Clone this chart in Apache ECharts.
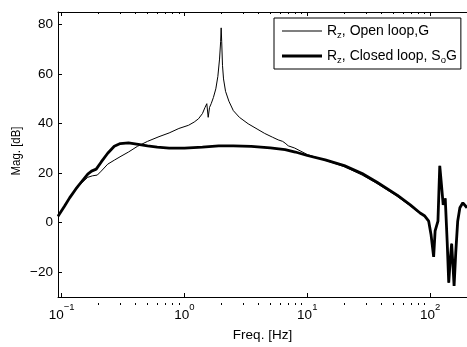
<!DOCTYPE html>
<html><head><meta charset="utf-8">
<script src="https://cdn.jsdelivr.net/npm/echarts@6/dist/echarts.min.js"></script>
<style>html,body{margin:0;padding:0;background:#fff}#c{width:467px;height:347px}</style>
</head><body><div id="c"></div>
<script>
const FONT = 'Liberation Sans, Arial, Helvetica, sans-serif';
const xMin = 0.0933, xMax = 200;
const yMin = -30, yMax = 85;
const xMajorTicks = [0.1, 1, 10, 100];
const xMinorTicks = [0.2,0.3,0.4,0.5,0.6,0.7,0.8,0.9,2,3,4,5,6,7,8,9,20,30,40,50,60,70,80,90];
const xTickExponents = ['\u22121', '0', '1', '2'];
const yTicks = [-20, 0, 20, 40, 60, 80];
const seriesNames = ['Rz, Open loop,G', 'Rz, Closed loop, SoG'];

const freqOpen = [0.0933,0.105,0.116,0.13,0.145,0.163,0.178,0.195,0.21,0.237,0.27,0.304,0.35,0.414,0.5,0.62,0.75,0.9,1.08,1.2,1.3,1.4,1.47,1.52,1.56,1.6,1.65,1.72,1.8,1.87,1.93,1.97,1.99,2.01,2.04,2.08,2.16,2.3,2.5,2.8,3.3,3.9,4.5,5.2,5.8,6.3,6.6,7.0,7.9,10,14,20,28,37,54,69,83,90,97.5,102,107,110,116,118,120,124,128,133,138,142,146,150,154,157,162,168,175,185,200];
const magOpen = [2.6,6.5,10,13.3,16,18.3,18.9,19.2,20.8,23.6,25.3,26.8,28.5,30.8,32.8,34.7,36.2,38,39.3,40.6,41.9,44,46.5,48,42.5,46.5,48,50.5,54,59,66,73,78.6,73,63.5,58,53,49,45.2,42.5,39.9,37.8,36,34.5,33.4,32.8,32.1,31,30.1,27.5,25.2,22.6,19.2,15.8,10.6,6.8,3.6,2.8,0.6,-5,-13.8,-3.3,0.6,12,22.9,15,7.2,9.8,-8,-24.2,-15,-8.5,-18,-25.5,-12,0.6,6,8,6];

const freqClosed = [0.0933,0.105,0.116,0.13,0.145,0.163,0.175,0.191,0.21,0.237,0.268,0.3,0.35,0.42,0.5,0.6,0.75,1.0,1.4,1.9,2.5,3.5,5,6.6,8,10,14,20,28,37,54,69,83,90,97.5,102,107,110,116,118,120,124,128,133,138,142,146,150,154,157,162,168,175,185,200];
const magClosed = [2.6,6.5,10,13.5,16.5,19.6,20.8,21.6,24.5,28,30.8,31.9,32.2,31.6,31,30.5,30.1,30.1,30.5,31,31,30.8,30.2,29.5,28.5,27.1,25.3,23,19.8,16.3,11.1,7.2,3.9,2.8,0.6,-5,-13.8,-3.3,0.6,12,22.9,15,7.2,9.8,-8,-24.2,-15,-8.5,-18,-25.5,-12,0.6,6,8,6];

const pairs = (xs, ys) => xs.map((x, i) => [x, ys[i]]);
const gridRect = {left: 58, top: 12, width: 412, height: 293};

const xLabelRich = {
  b: {fontSize: 13.5, fontFamily: FONT, color: '#000', lineHeight: 14, verticalAlign: 'top', padding: [6, 0, 0, 0]},
  s: {fontSize: 9.5, fontFamily: FONT, color: '#000', lineHeight: 10, verticalAlign: 'top'}
};
function xLabelFmt(v) {
  const e = Math.round(Math.log10(v));
  const idx = xMajorTicks.findIndex(t => Math.abs(Math.log10(t) - e) < 1e-6);
  if (idx < 0) return '';
  return '{b|10}{s|' + xTickExponents[idx] + '}';
}
function baseX(gridIndex, position, ticks, len, showLine, showLabel) {
  return {
    type: 'log', logBase: 10, gridIndex, position, min: xMin, max: xMax,
    axisLine: {show: showLine, onZero: false, lineStyle: {color: '#000', width: 1}},
    axisTick: {show: true, inside: true, length: len, customValues: ticks, lineStyle: {color: '#000', width: 1}},
    axisLabel: showLabel ? {show: true, customValues: ticks, formatter: xLabelFmt, rich: xLabelRich, margin: 5, color: '#000'} : {show: false},
    splitLine: {show: false}, minorTick: {show: false}, minorSplitLine: {show: false}
  };
}
const xAxes = [
  Object.assign(baseX(0, 'bottom', xMajorTicks, 4, true, true), {
    name: 'Freq. [Hz]', nameLocation: 'middle', nameGap: 31,
    nameTextStyle: {fontSize: 13.5, fontFamily: FONT, color: '#000'}
  }),
  baseX(0, 'top', xMajorTicks, 4, true, false),
  baseX(1, 'bottom', xMinorTicks, 2, false, false),
  baseX(1, 'top', xMinorTicks, 2, false, false)
];

const legendRich = {
  a: {fontSize: 14, fontFamily: FONT, color: '#000', lineHeight: 14, verticalAlign: 'top'},
  s: {fontSize: 9.5, fontFamily: FONT, color: '#000', lineHeight: 10, verticalAlign: 'top', padding: [6, 0, 0, 0]}
};
const legendText = {
  'Rz, Open loop,G': '{a|R}{s|z}{a|, Open loop,G}',
  'Rz, Closed loop, SoG': '{a|R}{s|z}{a|, Closed loop, S}{s|o}{a|G}'
};
const legendIcons = {
  'Rz, Open loop,G': 'path://M0,0L40,0L40,1L0,1Z',
  'Rz, Closed loop, SoG': 'path://M0,0L40,0L40,3L0,3Z'
};

const chart = echarts.init(document.getElementById('c'), null, {renderer: 'canvas'});
chart.setOption({
  animation: false,
  backgroundColor: '#fff',
  grid: [Object.assign({}, gridRect), Object.assign({}, gridRect)],
  xAxis: xAxes,
  yAxis: [
    {type: 'value', gridIndex: 0, position: 'left', min: yMin, max: yMax,
     axisLine: {show: true, onZero: false, lineStyle: {color: '#000', width: 1}},
     axisTick: {show: true, inside: true, length: 4, customValues: yTicks, lineStyle: {color: '#000'}},
     axisLabel: {show: true, customValues: yTicks, margin: 5, color: '#000', fontSize: 13.5, fontFamily: FONT,
                 formatter: v => (v < 0 ? '\u2212' + Math.abs(v) : String(v))},
     splitLine: {show: false}},
    {type: 'value', gridIndex: 1, min: yMin, max: yMax, show: false}
  ],
  legend: {
    data: seriesNames.map(n => ({name: n, icon: legendIcons[n], itemStyle: {color: '#000', borderWidth: 0}})),
    orient: 'vertical', left: 274, top: 18,
    padding: [6, 4, 4, 8], itemGap: 9, itemWidth: 40, itemHeight: 14,
    symbolKeepAspect: true,
    backgroundColor: '#fff', borderColor: '#000', borderWidth: 1, borderRadius: 0,
    formatter: n => legendText[n],
    textStyle: {rich: legendRich, color: '#000'}
  },
  graphic: [
    {type: 'text', x: 16.5, y: 151, rotation: Math.PI / 2, scaleX: 0.85,
     style: {text: 'Mag. [dB]', font: '13.5px ' + FONT, fill: '#000', textAlign: 'center', textVerticalAlign: 'middle'}}
  ],
  series: [
    {name: seriesNames[0], type: 'line', xAxisIndex: 0, yAxisIndex: 0, data: pairs(freqOpen, magOpen),
     symbol: 'none', lineStyle: {color: '#000', width: 1}, itemStyle: {color: '#000'}, z: 2},
    {name: seriesNames[1], type: 'line', xAxisIndex: 0, yAxisIndex: 0, data: pairs(freqClosed, magClosed),
     symbol: 'none', lineStyle: {color: '#000', width: 2.8}, itemStyle: {color: '#000'}, z: 3}
  ]
});
</script></body></html>
